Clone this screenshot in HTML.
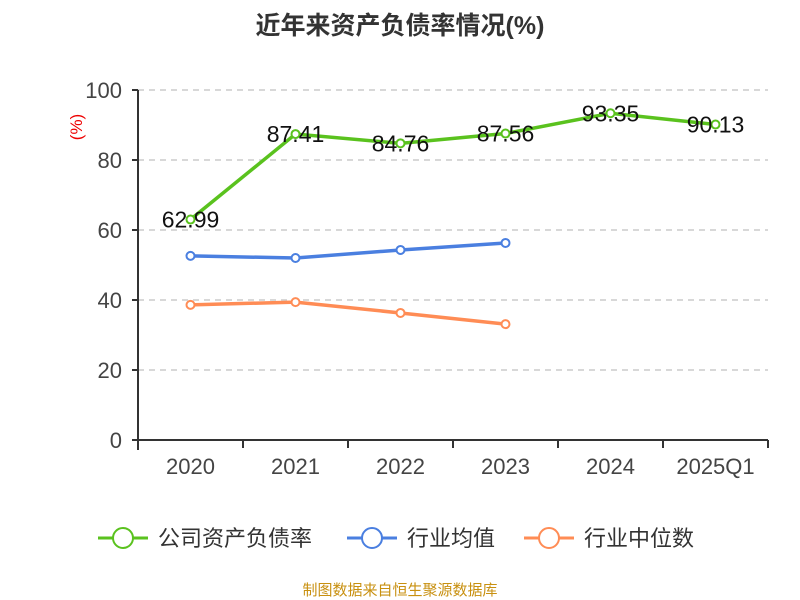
<!DOCTYPE html>
<html><head><meta charset="utf-8"><style>
body{margin:0;background:#fff;}
svg{display:block;font-family:"Liberation Sans","Noto Sans CJK SC",sans-serif;}
</style></head><body>
<svg id="c" width="800" height="600" viewBox="0 0 800 600">
<text x="400" y="34" text-anchor="middle" font-size="25" font-weight="bold" fill="#333">近年来资产负债率情况(%)</text>
<text transform="translate(82,127) rotate(-90)" text-anchor="middle" font-size="17" fill="#e00">(%)</text>
<g id="grid"></g><g id="axes"></g><g id="series"></g>
<g>
<g><line x1="98" y1="538" x2="148" y2="538" stroke="#5ac21e" stroke-width="3"/><circle cx="123" cy="538" r="10" fill="#fff" stroke="#5ac21e" stroke-width="2"/><text x="158" y="546" font-size="22" fill="#333">公司资产负债率</text></g>
<g><line x1="347" y1="538" x2="397" y2="538" stroke="#4a7fe0" stroke-width="3"/><circle cx="372" cy="538" r="10" fill="#fff" stroke="#4a7fe0" stroke-width="2"/><text x="407" y="546" font-size="22" fill="#333">行业均值</text></g>
<g><line x1="524" y1="538" x2="574" y2="538" stroke="#ff8c55" stroke-width="3"/><circle cx="549" cy="538" r="10" fill="#fff" stroke="#ff8c55" stroke-width="2"/><text x="584" y="546" font-size="22" fill="#333">行业中位数</text></g>
</g>
<text x="400" y="595" text-anchor="middle" font-size="15" fill="#c89010">制图数据来自恒生聚源数据库</text>
</svg>
<script>
const categories=["2020","2021","2022","2023","2024","2025Q1"];
const companyRatio=[62.99,87.41,84.76,87.56,93.35,90.13];
const industryAvg=[52.6,52.0,54.3,56.3];
const industryMedian=[38.6,39.4,36.3,33.1];
const yTicks=[0,20,40,60,80,100];
const NS="http://www.w3.org/2000/svg";
const x0=138,x1=768,yTop=90,yBot=440;
const bw=(x1-x0)/categories.length;
const xs=i=>x0+bw*(i+0.5);
const ys=v=>yBot-(v/100)*(yBot-yTop);
function mk(t,a,p){const e=document.createElementNS(NS,t);for(const k in a)e.setAttribute(k,a[k]);p.appendChild(e);return e;}
const grid=document.getElementById('grid'),axes=document.getElementById('axes'),ser=document.getElementById('series');
yTicks.forEach(v=>{
 if(v>0){const g=mk('line',{x1:x0,x2:x1,y1:ys(v),y2:ys(v),stroke:'#ccc','stroke-dasharray':'6,5','stroke-width':1.5},grid);
 
 }
 const tk=mk('line',{x1:x0-6,x2:x0,y1:ys(v),y2:ys(v),stroke:'#333','stroke-width':2},axes);
 
 
 const t=mk('text',{x:x0-16,y:ys(v)+8,'text-anchor':'end','font-size':22,fill:'#444'},axes);t.textContent=v;
 
 
});
const ya=mk('line',{x1:x0,x2:x0,y1:yTop,y2:yBot+10,stroke:'#333','stroke-width':2},axes);


const xa=mk('line',{x1:x0,x2:x1,y1:yBot,y2:yBot,stroke:'#333','stroke-width':2},axes);


for(let i=0;i<=categories.length;i++){const l=mk('line',{x1:x0+bw*i,x2:x0+bw*i,y1:yBot,y2:yBot+8,stroke:'#333','stroke-width':2},axes);
 
 }
categories.forEach((c,i)=>{const t=mk('text',{x:xs(i),y:yBot+34,'text-anchor':'middle','font-size':22,fill:'#444'},axes);t.textContent=c;
 
 });
function series(vals,color,name,labels){
 const g=mk('g',{},ser);
 
 
 const p=mk('polyline',{points:vals.map((v,i)=>xs(i)+','+ys(v)).join(' '),fill:'none',stroke:color,'stroke-width':3.5},g);
 
 
 vals.forEach((v,i)=>{const c=mk('circle',{cx:xs(i),cy:ys(v),r:4,fill:'#fff',stroke:color,'stroke-width':2},g);
  
  
  if(labels){const t=mk('text',{x:xs(i),y:ys(v)+8,'text-anchor':'middle','font-size':23,fill:'#111'},g);t.textContent=v.toFixed(2);
   
   }
 });
}
series(industryAvg,'#4a7fe0','industry-avg-series',false);
series(industryMedian,'#ff8c55','industry-median-series',false);
series(companyRatio,'#5ac21e','company-ratio-series',true);
</script>
</body></html>
